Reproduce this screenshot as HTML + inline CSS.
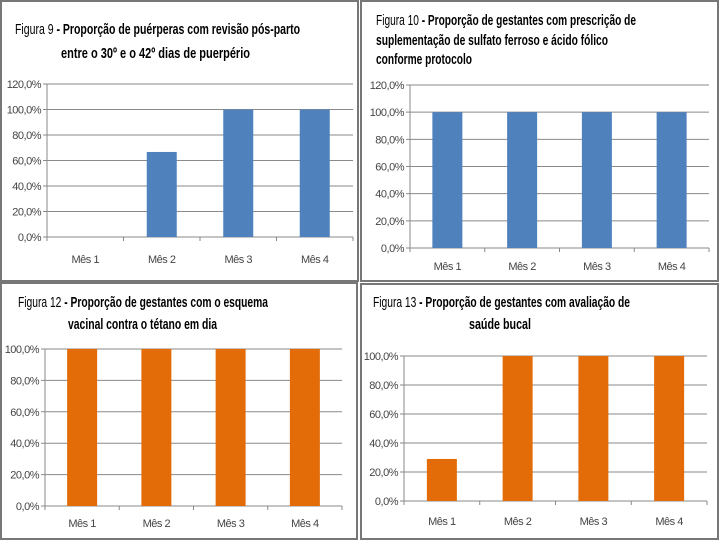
<!DOCTYPE html>
<html><head><meta charset="utf-8"><style>
body{margin:0;background:#fff}
svg{display:block;font-family:"Liberation Sans",sans-serif}
</style></head><body>
<svg id="s" width="720" height="540" viewBox="0 0 720 540">
<rect x="0" y="0" width="720" height="540" fill="#fff"/>
<g fill="none" stroke="#777" stroke-width="2">
<rect x="1" y="1" width="357" height="280"/>
<rect x="361" y="1" width="357" height="280"/>
<rect x="1" y="283" width="356" height="256"/>
<rect x="361" y="284" width="357" height="255"/>
</g>
<g font-size="15" fill="#000" font-family="Liberation Sans,sans-serif">
<text x="15" y="34" textLength="285" lengthAdjust="spacingAndGlyphs">Figura 9 <tspan font-weight="bold">- Proporção de puérperas com revisão pós-parto</tspan></text>
<text x="61" y="58" textLength="189" lengthAdjust="spacingAndGlyphs" font-weight="bold">entre o 30º e o 42º dias de puerpério</text>
<text x="376" y="25" textLength="260" lengthAdjust="spacingAndGlyphs">Figura 10 <tspan font-weight="bold">- Proporção de gestantes com prescrição de</tspan></text>
<text x="376" y="45" textLength="232" lengthAdjust="spacingAndGlyphs" font-weight="bold">suplementação de sulfato ferroso e ácido fólico</text>
<text x="376" y="64" textLength="96" lengthAdjust="spacingAndGlyphs" font-weight="bold">conforme protocolo</text>
<text x="18" y="307" textLength="250" lengthAdjust="spacingAndGlyphs">Figura 12 <tspan font-weight="bold">- Proporção de gestantes com o esquema</tspan></text>
<text x="68" y="329" textLength="149" lengthAdjust="spacingAndGlyphs" font-weight="bold">vacinal contra o tétano em dia</text>
<text x="373" y="307" textLength="257" lengthAdjust="spacingAndGlyphs">Figura 13 <tspan font-weight="bold">- Proporção de gestantes com avaliação de</tspan></text>
<text x="469" y="329" textLength="62" lengthAdjust="spacingAndGlyphs" font-weight="bold">saúde bucal</text>
</g>
<g id="charts"></g>
</svg>
<script>
const categories = ["Mês 1","Mês 2","Mês 3","Mês 4"];
const fig9Values = [0, 66.7, 100, 100];
const fig10Values = [100, 100, 100, 100];
const fig12Values = [100, 100, 100, 100];
const fig13Values = [29, 100, 100, 100];
const ticks120 = [0,20,40,60,80,100,120];
const ticks100 = [0,20,40,60,80,100];
const tickLabels = {0:"0,0%",20:"20,0%",40:"40,0%",60:"60,0%",80:"80,0%",100:"100,0%",120:"120,0%"};

const NS="http://www.w3.org/2000/svg";
const root=document.getElementById('charts');
function mk(tag,attrs,parent){const e=document.createElementNS(NS,tag);for(const k in attrs)e.setAttribute(k,attrs[k]);parent.appendChild(e);return e;}

function drawChart(id,values,ticks,max,x0,x1,yTop,yBot,color,labelY){
  const g=mk('g',{},root);
  
  
  const yS=v=>yBot-(v/max)*(yBot-yTop);
  const bw=(x1-x0)/categories.length;
  ticks.forEach(t=>{
    const y=yS(t);
    const ln=mk('line',{x1:x0-4,x2:x1,y1:y,y2:y,stroke:'#8a8a8a','stroke-width':1},g);
    
    
    const tx=mk('text',{x:x0-6,y:y+4,'text-anchor':'end','font-size':11,fill:'#444','letter-spacing':'-0.5'},g);
    tx.textContent=tickLabels[t];
    
    
  });
  const ax=mk('line',{x1:x0,x2:x0,y1:yTop,y2:yBot,stroke:'#888','stroke-width':1},g);
  
  
  for(let i=0;i<=categories.length;i++){
    const tk=mk('line',{x1:x0+i*bw,x2:x0+i*bw,y1:yBot,y2:yBot+4,stroke:'#888'},g);
    
    
  }
  categories.forEach((c,i)=>{
    const cx=x0+bw*(i+0.5);
    const v=values[i];
    const r=mk('rect',{x:cx-15,y:yS(v),width:30,height:yBot-yS(v),fill:color},g);
    
    
    const lt=mk('text',{x:cx,y:labelY,'text-anchor':'middle','font-size':11,fill:'#444','letter-spacing':'-0.5'},g);
    lt.textContent=c;
    
    
  });
}
drawChart('fig9',fig9Values,ticks120,120,47,353,84,237,'#4F81BD',263);
drawChart('fig10',fig10Values,ticks120,120,410,709,85,248,'#4F81BD',270);
drawChart('fig12',fig12Values,ticks100,100,45,342,349,506,'#E36C09',527);
drawChart('fig13',fig13Values,ticks100,100,404,707,356,501,'#E36C09',525);
</script>
</body></html>
